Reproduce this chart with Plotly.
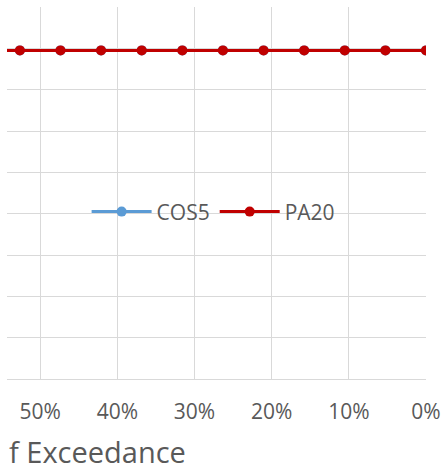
import plotly.graph_objects as go

# Probability of exceedance (x) and values for each series
exceedance = [0.0, 0.0526, 0.1053, 0.1579, 0.2105, 0.2632, 0.3158, 0.3684,
              0.4211, 0.4737, 0.5263, 0.5789]
cos5 = [7.95] * len(exceedance)
pa20 = [7.95] * len(exceedance)

series = [("COS5", cos5, "#5B9BD5"), ("PA20", pa20, "#C00000")]

fig = go.Figure()
for name, vals, color in series:
    fig.add_trace(go.Scatter(
        x=exceedance, y=vals, name=name, mode="lines+markers",
        line=dict(color=color, width=3),
        marker=dict(color=color, size=10),
    ))

FONT = "Open Sans"
GRAY = "#595959"

fig.update_layout(
    width=445, height=471,
    margin=dict(l=7, r=19, t=7, b=92),
    paper_bgcolor="white", plot_bgcolor="white",
    font=dict(family=FONT, color=GRAY, size=21),
    showlegend=True,
    legend=dict(orientation="h", x=0.19, y=0.449, xanchor="left", yanchor="middle",
                bgcolor="rgba(0,0,0,0)", font=dict(size=21, color=GRAY),
                itemwidth=60, tracegroupgap=0),
    xaxis=dict(range=[0.543, 0], tick0=0, dtick=0.1, tickformat=".0%",
               automargin=False,
               showgrid=True, gridcolor="#D9D9D9", gridwidth=1,
               showline=True, linecolor="#D9D9D9", linewidth=1,
               zeroline=False, ticks="", ticklabelstandoff=14,
               tickfont=dict(size=21, color=GRAY, family=FONT)),
    yaxis=dict(range=[0, 9], dtick=1, showticklabels=False, automargin=False,
               showgrid=True, gridcolor="#D9D9D9", gridwidth=1,
               zeroline=False, showline=False),
    annotations=[dict(text="f Exceedance", xref="paper", yref="paper",
                      x=0, y=-0.196, xanchor="left", yanchor="middle",
                      showarrow=False, font=dict(size=29, color=GRAY, family=FONT))],
)

fig.write_html(
    "out.html",
    config={"displayModeBar": False, "responsive": False},
    post_script="document.body.style.margin='0';document.body.style.overflow='hidden';"
                "Plotly.relayout(document.getElementById('{plot_id}'), {});",
)
